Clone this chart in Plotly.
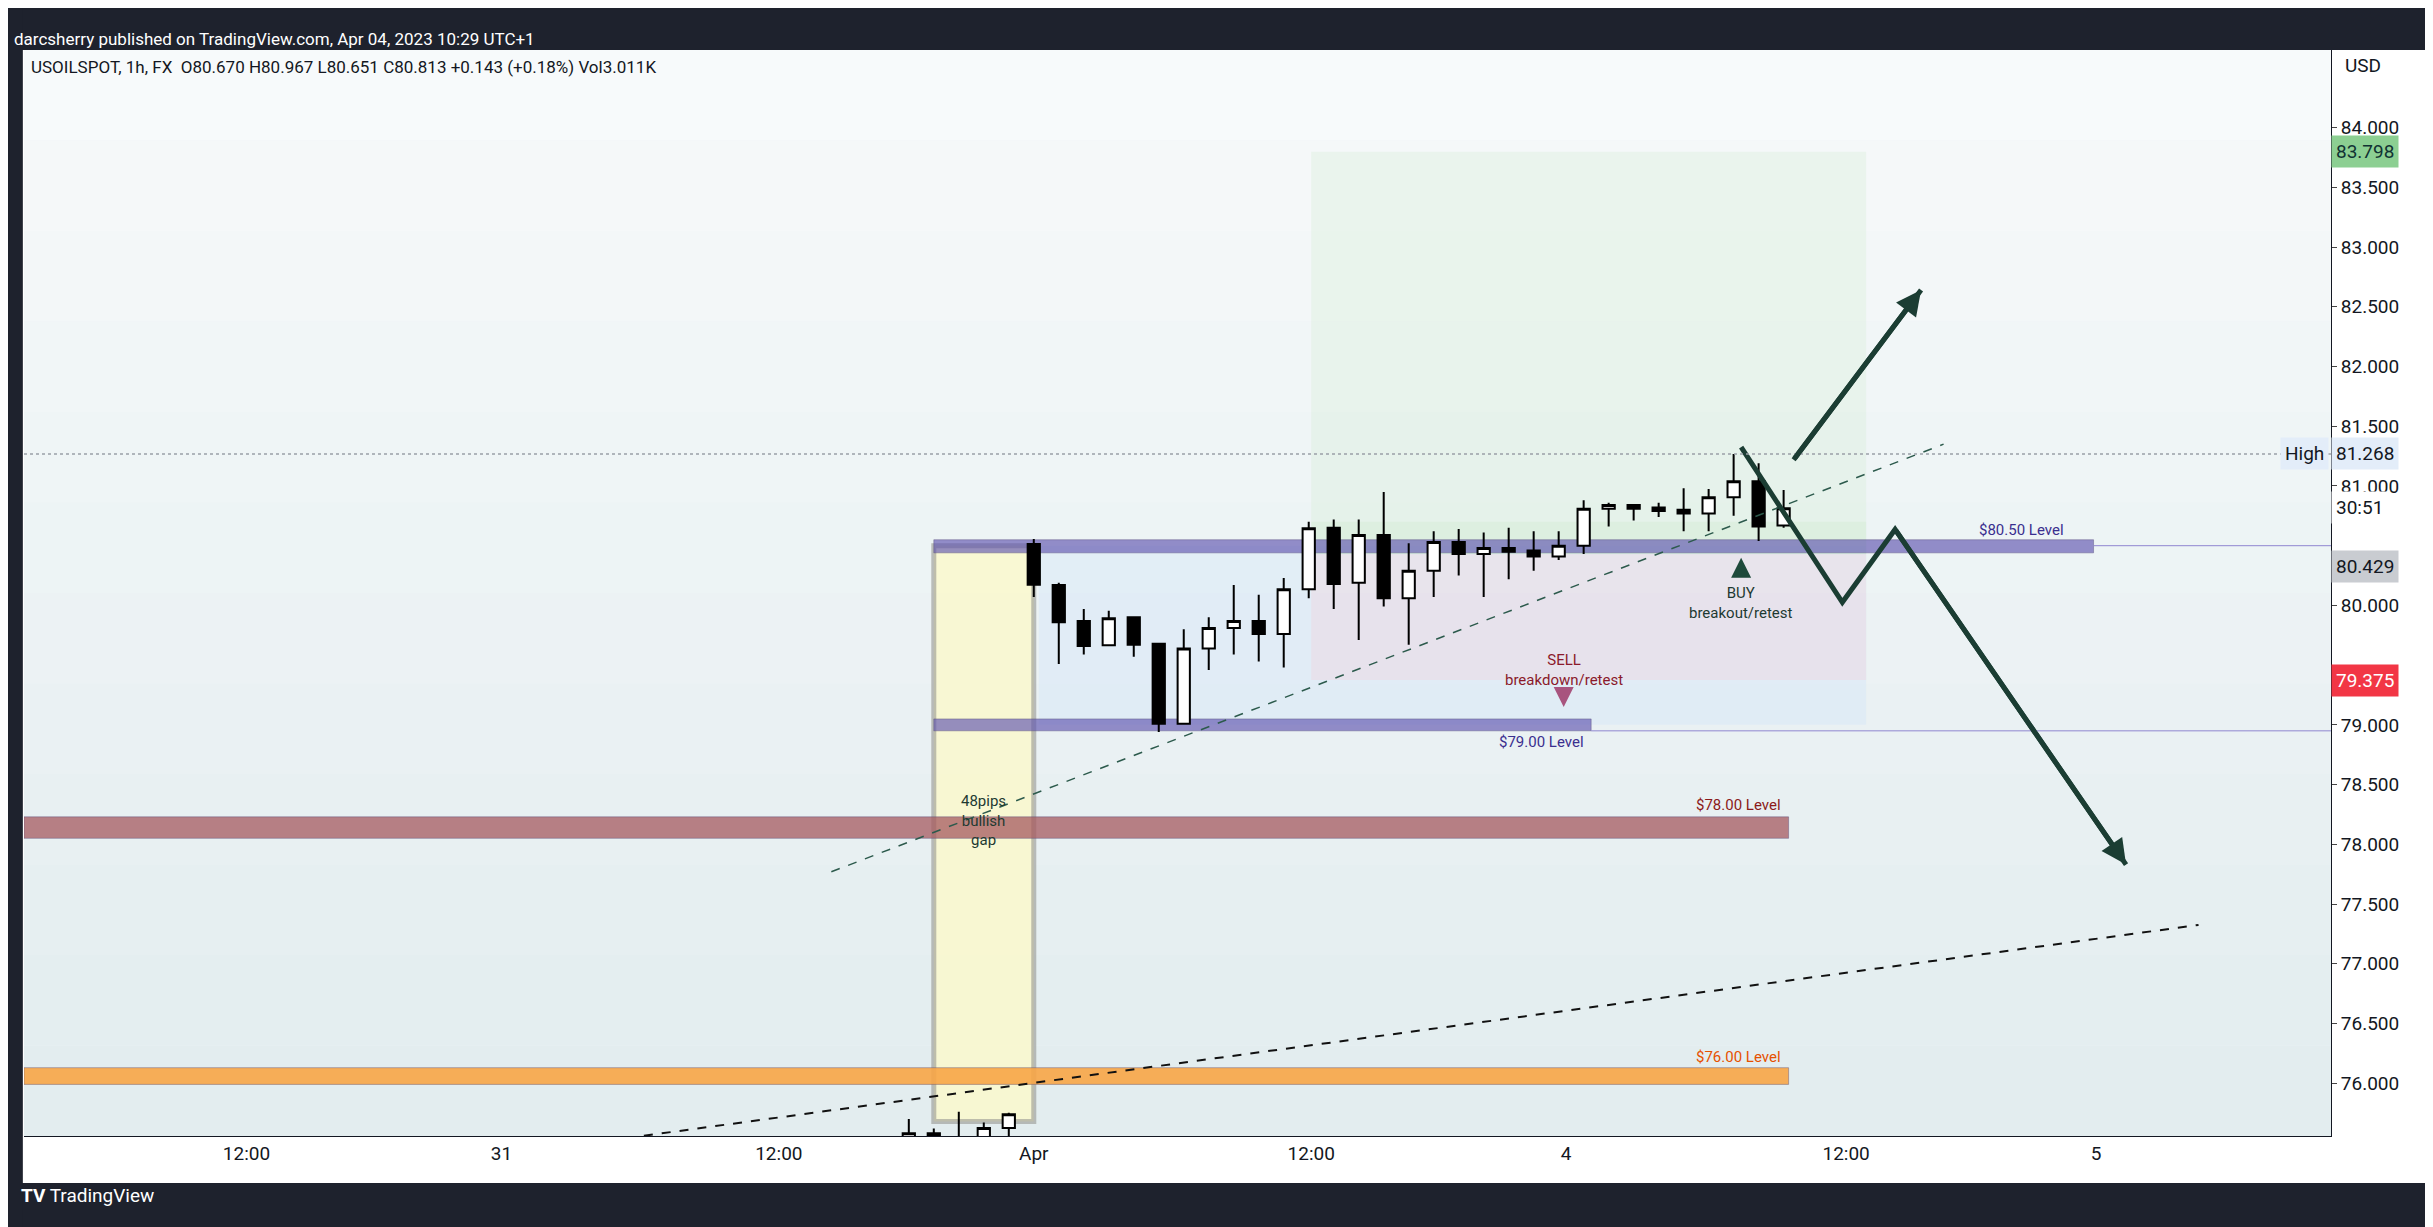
import plotly.graph_objects as go

# bar index 0 = first bar of Apr 3 session
bar_idx = list(range(-5, 31))
opens = [75.50, 75.58, 75.50, 75.50, 75.625,
         80.515, 80.17, 79.87, 79.667, 79.90, 79.68, 79.01, 79.64, 79.81, 79.87,
         79.76, 80.135, 80.65, 80.19, 80.59, 80.06, 80.29, 80.53, 80.43, 80.48,
         80.46, 80.41, 80.50, 80.81, 80.84, 80.82, 80.80, 80.77, 80.905, 81.04, 80.670]
highs = [75.70, 75.62, 75.76, 75.67, 75.753,
         80.557, 80.19, 79.97, 79.955, 79.90, 79.68, 79.80, 79.90, 80.17, 80.09,
         80.23, 80.70, 80.72, 80.72, 80.95, 80.52, 80.62, 80.64, 80.61, 80.65,
         80.62, 80.62, 80.88, 80.86, 80.85, 80.86, 80.98, 80.975, 81.268, 81.19, 80.967]
lows = [75.45, 75.45, 75.40, 75.45, 75.50,
        80.071, 79.51, 79.59, 79.667, 79.57, 78.94, 79.01, 79.46, 79.59, 79.53,
        79.48, 80.06, 79.97, 79.71, 79.99, 79.67, 80.07, 80.25, 80.07, 80.22,
        80.29, 80.38, 80.43, 80.66, 80.71, 80.74, 80.62, 80.62, 80.75, 80.54, 80.651]
closes = [75.58, 75.50, 75.49, 75.625, 75.74,
          80.174, 79.86, 79.66, 79.893, 79.67, 79.01, 79.64, 79.81, 79.87, 79.76,
          80.135, 80.646, 80.18, 80.59, 80.06, 80.29, 80.53, 80.43, 80.48, 80.45,
          80.41, 80.50, 80.81, 80.84, 80.81, 80.79, 80.77, 80.905, 81.04, 80.66, 80.813]

tick_pos = [-31.5, -21.3, -10.2, 0, 11.1, 21.3, 32.5, 42.5]
tick_text = ["12:00", "31", "12:00", "Apr", "12:00", "4", "12:00", "5"]
# 79.5 and 80.5 sit under the stop / last-price tags, as in the source
price_ticks = [76.0, 76.5, 77.0, 77.5, 78.0, 78.5, 79.0, 80.0,
               81.0, 81.5, 82.0, 82.5, 83.0, 83.5, 84.0]

level_bands = [  # (x0, x1, y0, y1, fill, label, label_x, label_y, label_color)
    (-4.0, 42.4, 80.44, 80.55, "rgba(95,85,175,0.65)", "$80.50 Level", 39.5, 80.63, "#3a2f8f"),
    (-4.0, 22.3, 78.95, 79.05, "rgba(95,85,175,0.65)", "$79.00 Level", 20.3, 78.86, "#3a2f8f"),
    (-40.4, 30.2, 78.05, 78.23, "rgba(165,90,95,0.75)", "$78.00 Level", 28.2, 78.33, "#8b1a1a"),
    (-40.4, 30.2, 75.99, 76.13, "rgba(247,165,70,0.9)", "$76.00 Level", 28.2, 76.22, "#e65100"),
]

target_top, entry, stop = 83.798, 80.429, 79.375
day_high = 81.268
trend1 = ([-8.1, 36.4], [77.77, 81.35])
trend2 = ([-15.6, 46.6], [75.56, 77.325])
up_arrow = ([30.4, 35.5], [81.22, 82.64])
zigzag = ([28.3, 32.35, 34.46, 43.7], [81.325, 80.026, 80.636, 77.83])

DARK = "#1e222d"
ARROW = "#1b3d33"

fig = go.Figure()

shapes = []
# soft vertical gradient of the pane
n_grad = 12
for i in range(n_grad):
    t = i / (n_grad - 1)
    r = int(247 - 20 * t); g = int(250 - 13 * t); b = int(251 - 12 * t)
    shapes.append(dict(type="rect", xref="paper", yref="paper", x0=0, x1=1,
                       y0=1 - (i + 1) / n_grad, y1=1 - i / n_grad,
                       fillcolor=f"rgb({r},{g},{b})", line_width=0, layer="below"))
# background tints
shapes.append(dict(type="rect", x0=0.2, x1=33.3, y0=79.0, y1=80.5,
                   fillcolor="rgba(205,225,250,0.35)", line_width=0, layer="below"))
shapes.append(dict(type="rect", x0=11.1, x1=33.3, y0=entry, y1=target_top,
                   fillcolor="rgba(215,238,215,0.35)", line_width=0, layer="below"))
shapes.append(dict(type="rect", x0=11.1, x1=33.3, y0=entry, y1=80.7,
                   fillcolor="rgba(205,235,205,0.35)", line_width=0, layer="below"))
shapes.append(dict(type="rect", x0=11.1, x1=33.3, y0=stop, y1=entry,
                   fillcolor="rgba(240,215,225,0.45)", line_width=0, layer="below"))
# gap box
shapes.append(dict(type="rect", x0=-4.0, x1=0.0, y0=75.68, y1=80.5,
                   fillcolor="rgba(250,248,205,0.85)", line=dict(color="rgba(150,150,145,0.6)", width=5),
                   layer="below"))
for x0, x1, y0, y1, fill, *_ in level_bands:
    shapes.append(dict(type="rect", x0=x0, x1=x1, y0=y0, y1=y1, fillcolor=fill,
                       line=dict(color="rgba(80,70,120,0.4)", width=1), layer="below"))
shapes.append(dict(type="line", x0=42.4, x1=51.9, y0=80.5, y1=80.5,
                   line=dict(color="#8f86d0", width=1)))
shapes.append(dict(type="line", x0=22.3, x1=51.9, y0=78.95, y1=78.95,
                   line=dict(color="#8f86d0", width=1)))
shapes.append(dict(type="line", x0=-40.4, x1=51.9, y0=day_high, y1=day_high,
                   line=dict(color="#9aa0a8", width=1.5, dash="dot")))
# frame bars
shapes += [
    dict(type="rect", xref="paper", yref="paper", x0=-0.01, x1=1.05, y0=1.0, y1=1.04,
         fillcolor=DARK, line_width=0),
    dict(type="rect", xref="paper", yref="paper", x0=-0.01, x1=1.05, y0=-0.0433, y1=-0.1,
         fillcolor=DARK, line_width=0),
    dict(type="rect", xref="paper", yref="paper", x0=-0.01, x1=-0.0005, y0=-0.1, y1=1.04,
         fillcolor=DARK, line_width=0),
    dict(type="rect", xref="paper", yref="paper", x0=1.0465, x1=1.06, y0=-0.1, y1=1.04,
         fillcolor=DARK, line_width=0),
]

fig.add_trace(go.Scatter(x=trend1[0], y=trend1[1], mode="lines",
                         line=dict(color="#2c5a4c", width=1.5, dash="dash"), hoverinfo="skip"))
fig.add_trace(go.Scatter(x=trend2[0], y=trend2[1], mode="lines",
                         line=dict(color="#111", width=2, dash="dash"), hoverinfo="skip"))

fig.add_trace(go.Candlestick(
    x=bar_idx, open=opens, high=highs, low=lows, close=closes,
    increasing=dict(fillcolor="white", line=dict(color="black", width=2)),
    decreasing=dict(fillcolor="black", line=dict(color="black", width=2)),
    whiskerwidth=0, hoverinfo="skip"))

fig.add_trace(go.Scatter(x=up_arrow[0], y=up_arrow[1], mode="lines",
                         line=dict(color=ARROW, width=5), hoverinfo="skip"))
fig.add_trace(go.Scatter(x=zigzag[0], y=zigzag[1], mode="lines",
                         line=dict(color=ARROW, width=5), hoverinfo="skip"))
# buy / sell markers
fig.add_trace(go.Scatter(x=[28.3], y=[80.40], mode="markers",
                         marker=dict(symbol="arrow-up", size=20, color="#1e4a3b"), hoverinfo="skip"))
fig.add_trace(go.Scatter(x=[21.2], y=[79.15], mode="markers",
                         marker=dict(symbol="arrow-down", size=20, color="#a8547e"), hoverinfo="skip"))

ann = []
for *_, text, lx, ly, col in level_bands:
    ann.append(dict(x=lx, y=ly, text=text, showarrow=False, font=dict(size=15, color=col)))
ann += [
    dict(x=28.3, y=80.2, yanchor="top", text="BUY<br>breakout/retest", showarrow=False,
         font=dict(size=15, color="#1e3a32")),
    dict(x=21.2, y=79.46, text="SELL<br>breakdown/retest", showarrow=False,
         font=dict(size=15, color="#8b1a2b")),
    dict(x=-2.0, y=78.2, text="48pips<br>bullish<br>gap", showarrow=False,
         font=dict(size=15, color="#1e3a32")),
]
# arrow heads
for xs, ys in (up_arrow, (zigzag[0][-2:], zigzag[1][-2:])):
    ann.append(dict(x=xs[1], y=ys[1], ax=xs[0], ay=ys[0], axref="x", ayref="y",
                    showarrow=True, arrowhead=2, arrowsize=1, arrowwidth=5,
                    arrowcolor=ARROW, text=""))


def axis_label(y, text, bg, fg):
    return dict(x=1.0, xref="paper", y=y, xanchor="left", text=text, showarrow=False,
                bgcolor=bg, font=dict(size=19, color=fg), borderpad=4)


ann += [
    axis_label(target_top, "83.798", "#8ccf92", "#133"),
    axis_label(day_high, "81.268", "#e3edf9", "#131722"),
    axis_label(80.82, "30:51", "white", "#131722"),
    axis_label(entry - 0.1, "80.429", "#c9ccd1", "#131722"),
    axis_label(stop, "79.375", "#f23645", "white"),
    dict(x=0.999, xref="paper", y=day_high, xanchor="right", text="High", showarrow=False,
         bgcolor="#e3edf9", font=dict(size=19, color="#131722"), borderpad=4),
    dict(x=1.005, xref="paper", y=0.998, yref="paper", xanchor="left", yanchor="top",
         text="USD", showarrow=False, bgcolor="white", font=dict(size=19, color="#131722")),
    dict(x=0.002, xref="paper", y=0.995, yref="paper", xanchor="left", yanchor="top",
         text="USOILSPOT, 1h, FX  O80.670 H80.967 L80.651 C80.813 +0.143 (+0.18%) Vol3.011K",
         showarrow=False, font=dict(size=17, color="#131722")),
    dict(x=-0.005, xref="paper", y=1.021, yref="paper", xanchor="left",
         text="darcsherry published on TradingView.com, Apr 04, 2023 10:29 UTC+1",
         showarrow=False, font=dict(size=17, color="white")),
    dict(x=-0.002, xref="paper", y=-0.067, yref="paper", xanchor="left",
         text="<b>TV</b> TradingView", showarrow=False, font=dict(size=19, color="white")),
]

fig.update_layout(
    width=2433, height=1227,
    margin=dict(l=16, r=110, t=42, b=99),
    paper_bgcolor="white", plot_bgcolor="#edf3f5",
    font=dict(family="Roboto, sans-serif", size=19, color="#131722"),
    showlegend=False, shapes=shapes, annotations=ann,
    xaxis=dict(range=[-40.4, 51.9], rangeslider=dict(visible=False), tickvals=tick_pos,
               ticktext=tick_text, showgrid=False, zeroline=False, showline=True,
               linecolor="#131722", ticks="", tickfont=dict(size=19)),
    yaxis=dict(range=[75.558, 84.65], side="right", tickvals=price_ticks, tickformat=".3f",
               showgrid=False, zeroline=False, showline=True, linecolor="#131722",
               ticks="outside", ticklen=5, tickfont=dict(size=19)),
)
fig.write_html("out.html")
